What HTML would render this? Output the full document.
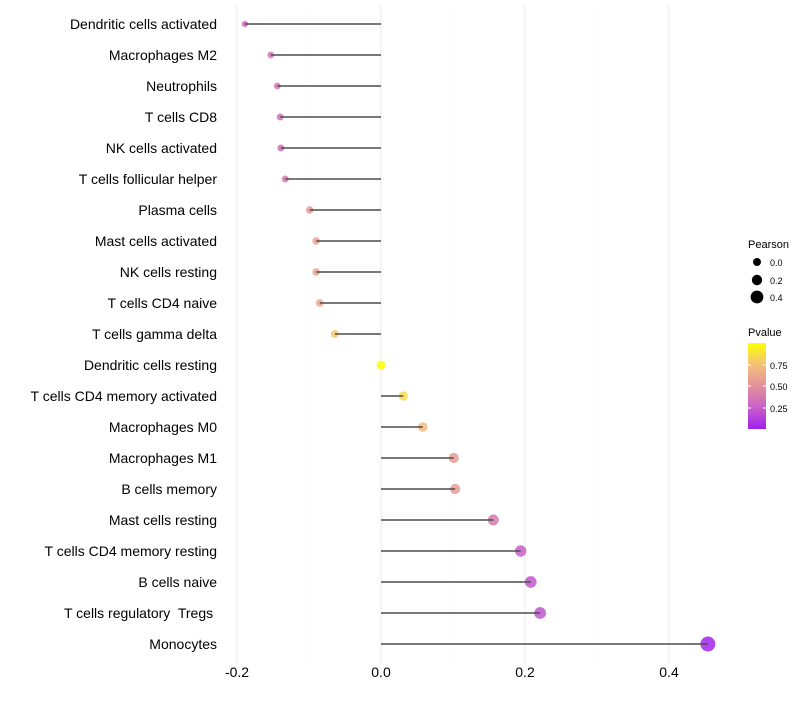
<!DOCTYPE html>
<html><head><meta charset="utf-8"><style>
body{margin:0;background:#fff;font-family:"Liberation Sans",sans-serif}
</style></head><body>
<svg id="chart" width="800" height="700" xmlns="http://www.w3.org/2000/svg" font-family="Liberation Sans, sans-serif">
<defs><linearGradient id="pg" x1="0" y1="1" x2="0" y2="0">
<stop offset="0" stop-color="#a020f0"/><stop offset="0.25" stop-color="#c860c8"/><stop offset="0.5" stop-color="#e4909a"/><stop offset="0.75" stop-color="#f4c07a"/><stop offset="1" stop-color="#ffff00"/></linearGradient></defs>
<g id="grid"></g><g id="dots"></g><g id="segs"></g><g id="labels"></g><g id="xticks"></g>
<g>
<text x="748" y="248" font-size="11">Pearson</text>
<circle cx="757" cy="262" r="4" fill="#000"/><text x="770" y="266" font-size="9">0.0</text>
<circle cx="757" cy="280" r="5.2" fill="#000"/><text x="770" y="284" font-size="9">0.2</text>
<circle cx="757" cy="297" r="6.4" fill="#000"/><text x="770" y="301" font-size="9">0.4</text>
</g>
<g>
<text x="748" y="336" font-size="11">Pvalue</text>
<rect x="748" y="343" width="18" height="86" fill="url(#pg)"/>
<line x1="748" x2="751" y1="365" y2="365" stroke="#fff"/><line x1="763" x2="766" y1="365" y2="365" stroke="#fff"/>
<line x1="748" x2="751" y1="386" y2="386" stroke="#fff"/><line x1="763" x2="766" y1="386" y2="386" stroke="#fff"/>
<line x1="748" x2="751" y1="408" y2="408" stroke="#fff"/><line x1="763" x2="766" y1="408" y2="408" stroke="#fff"/>
<text x="770" y="369" font-size="9">0.75</text><text x="770" y="390" font-size="9">0.50</text><text x="770" y="412" font-size="9">0.25</text>
</g>
</svg>
<script>
const categories=["Dendritic cells activated","Macrophages M2","Neutrophils","T cells CD8","NK cells activated","T cells follicular helper","Plasma cells","Mast cells activated","NK cells resting","T cells CD4 naive","T cells gamma delta","Dendritic cells resting","T cells CD4 memory activated","Macrophages M0","Macrophages M1","B cells memory","Mast cells resting","T cells CD4 memory resting","B cells naive","T cells regulatory  Tregs ","Monocytes"];
const pearson=[-0.189,-0.153,-0.144,-0.140,-0.139,-0.133,-0.099,-0.090,-0.090,-0.085,-0.064,0.0,0.031,0.058,0.101,0.103,0.156,0.194,0.208,0.221,0.454];
const pvalues=[0.30,0.35,0.35,0.33,0.33,0.38,0.55,0.60,0.60,0.62,0.78,1.0,0.85,0.72,0.55,0.55,0.38,0.25,0.22,0.20,0.02];
const xTicks=[-0.2,0.0,0.2,0.4];
const xMinor=[-0.1,0.1,0.3];
const NS="http://www.w3.org/2000/svg";
function x(v){return 381+v*720;}
function y(i){return 24+i*(620/20);}
function rad(v){return Math.max(1.8,4.4+6.8*v);}
function col(p){const st=[[0,[160,32,240]],[0.25,[200,96,200]],[0.5,[228,144,154]],[0.75,[244,192,122]],[1,[255,255,0]]];
for(let k=0;k<st.length-1;k++){const a=st[k],b=st[k+1];if(p<=b[0]){const t=(p-a[0])/(b[0]-a[0]);return "rgb("+a[1].map((c,j)=>Math.round(c+(b[1][j]-c)*t)).join(",")+")";}}return "rgb(255,255,0)";}
function mk(t,a,parent){const e=document.createElementNS(NS,t);for(const k in a)e.setAttribute(k,a[k]);document.getElementById(parent).appendChild(e);return e;}
xMinor.forEach(v=>{const l=mk("line",{x1:x(v),x2:x(v),y1:5,y2:663,stroke:"#f4f4f4","stroke-width":0.6},"grid");

});
xTicks.forEach(v=>{const l=mk("line",{x1:x(v),x2:x(v),y1:5,y2:663,stroke:"#ebebeb","stroke-width":1},"grid");


const t=mk("text",{x:x(v),y:677,"font-size":14,"text-anchor":"middle",fill:"#000"},"xticks");t.textContent=v.toFixed(1);

});
categories.forEach((c,i)=>{
const d=mk("circle",{cx:x(pearson[i]),cy:y(i),r:rad(pearson[i]),fill:col(pvalues[i]),"fill-opacity":0.85},"dots");


const s=mk("line",{x1:x(0),x2:x(pearson[i]),y1:y(i),y2:y(i),stroke:"#4d4d4d","stroke-width":1.4},"segs");


const t=mk("text",{x:217,y:y(i)+5,"font-size":14,"text-anchor":"end",fill:"#000"},"labels");t.textContent=c;
t.style.whiteSpace="pre";

});
</script>
</body></html>
